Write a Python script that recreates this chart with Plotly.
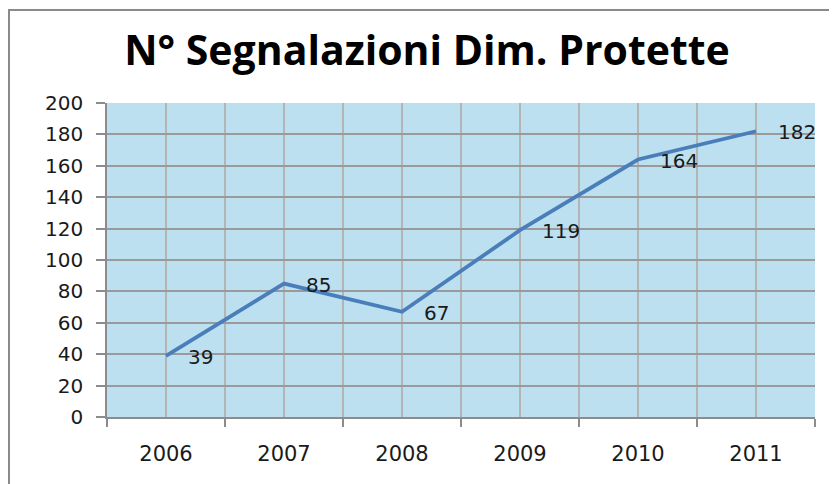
import plotly.graph_objects as go

years = ["2006", "2007", "2008", "2009", "2010", "2011"]
values = [39, 85, 67, 119, 164, 182]
y_ticks = [0, 20, 40, 60, 80, 100, 120, 140, 160, 180, 200]

xs = list(range(len(years)))

# page body has an 8px margin; lay out in screen pixels minus that offset
OFF = 8
W, H = 837 - OFF, 484 - OFF
L, T = 107 - OFF, 103 - OFF
R = W - (815 - OFF)
B = H - (417 - OFF)
pw, ph = W - L - R, H - T - B

fig = go.Figure()
fig.add_trace(go.Scatter(
    x=xs, y=values, mode="lines",
    line=dict(color="#4A7EBB", width=3.8),
    hoverinfo="skip", showlegend=False,
))

for xv, yv in zip(xs, values):
    fig.add_annotation(x=xv, y=yv, text=str(yv), showarrow=False,
                       xanchor="left", yanchor="middle", xshift=20, yshift=-1,
                       font=dict(family="DejaVu Sans", size=20, color="#1a1a1a"))

fig.update_layout(
    width=W, height=H,
    margin=dict(l=L, r=R, t=T, b=B),
    paper_bgcolor="white",
    plot_bgcolor="#BCE0EF",
    title=dict(text="<b>N° Segnalazioni Dim. Protette</b>",
               x=(427 - OFF - L) / pw, xref="paper", xanchor="center",
               y=1 - (51 - OFF) / H, yanchor="middle",
               font=dict(family="Open Sans", size=41, color="black")),
    xaxis=dict(
        range=[-0.5, len(years) - 0.5],
        tickvals=xs, ticktext=years,
        ticks="", showgrid=True, gridcolor="#B4B4B4", gridwidth=1.5,
        showline=True, linecolor="#8C8C8C", linewidth=1.5,
        ticklabelstandoff=17,
        tickfont=dict(family="DejaVu Sans", size=21, color="#1a1a1a"),
        minor=dict(tickvals=[i - 0.5 for i in range(len(years) + 1)],
                   ticks="outside", ticklen=8, tickcolor="#8C8C8C", tickwidth=1.5,
                   showgrid=True, gridcolor="#B4B4B4", gridwidth=1.5),
        zeroline=False, fixedrange=True,
    ),
    yaxis=dict(
        range=[0, 200], tickvals=y_ticks,
        ticks="outside", ticklen=9, tickcolor="#8C8C8C", tickwidth=1.5,
        showgrid=True, gridcolor="#9A9A9A", gridwidth=1.5,
        showline=True, linecolor="#8C8C8C", linewidth=1.5,
        ticklabelstandoff=9,
        tickfont=dict(family="DejaVu Sans", size=20, color="#1a1a1a"),
        zeroline=False, fixedrange=True,
    ),
)

fig.add_shape(type="rect", xref="paper", yref="paper",
              x0=(1 - L) / pw, x1=(845 - OFF - L) / pw,
              y0=-(500 - 417) / ph, y1=1 + (T - (10 - OFF)) / ph,
              line=dict(color="#8A8A8A", width=2), fillcolor="rgba(0,0,0,0)",
              layer="below")

fig.write_html("out.html")
